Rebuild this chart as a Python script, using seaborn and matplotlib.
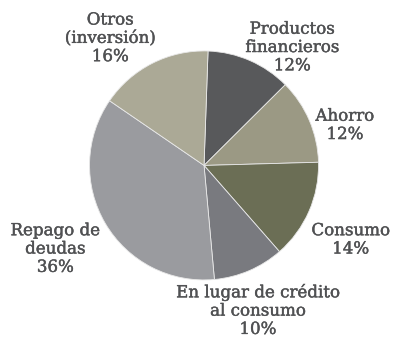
import matplotlib
matplotlib.use("Agg")
import matplotlib.pyplot as plt
import matplotlib.patheffects as pe
import seaborn as sns

# Destino de los fondos (porcentaje)
categorias = ["Productos\nfinancieros", "Ahorro", "Consumo",
              "En lugar de crédito\nal consumo", "Repago de\ndeudas",
              "Otros\n(inversión)"]
valores = [12, 12, 14, 10, 36, 16]
colores = ["#58595b", "#9b9984", "#6b6e55", "#797a7f", "#9a9b9f", "#aba996"]

# posiciones de las etiquetas (unidades del radio del pastel)
etiqueta_x = [0.77, 1.23, 1.28, 0.47, -1.30, -0.82]
etiqueta_y = [1.03, 0.35, -0.65, -1.27, -0.73, 1.11]

sns.set_theme(style="white")
plt.rcParams["font.family"] = ["DejaVu Serif"]

fig = plt.figure(figsize=(3.94, 3.38), dpi=100)
ax = fig.add_axes([0, 0, 1, 1])
ax.pie(valores, colors=colores, startangle=88, counterclock=False,
       radius=1.0, wedgeprops=dict(edgecolor="#e8e8e8", linewidth=0.6))
ax.set_xlim(-1.782, 1.659)
ax.set_ylim(-1.507, 1.445)
ax.set_aspect("auto")
ax.axis("off")

trazo = [pe.withStroke(linewidth=0.3, foreground="#505153")]
for nombre, v, x, y in zip(categorias, valores, etiqueta_x, etiqueta_y):
    ax.text(x, y, f"{nombre}\n{v}%", ha="center", va="center",
            fontsize=12, color="#505153", linespacing=1.1,
            path_effects=trazo)

fig.savefig("out.png", dpi=100)
